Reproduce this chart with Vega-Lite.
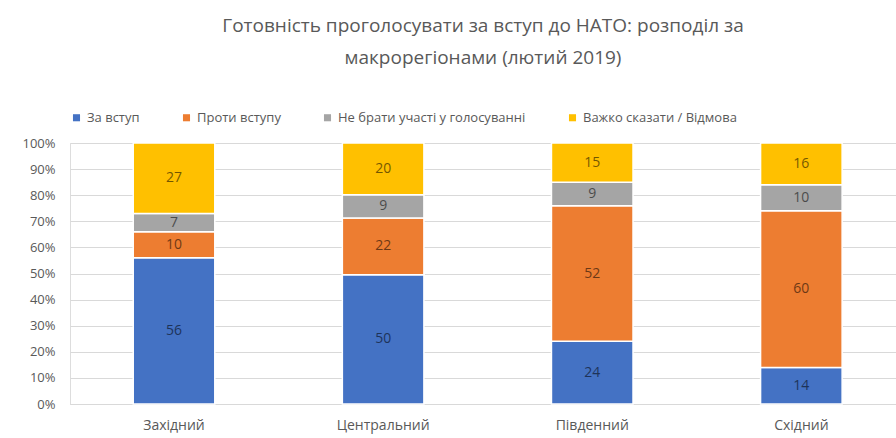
{
  "$schema": "https://vega.github.io/schema/vega-lite/v6.json",
  "width": 896,
  "height": 438,
  "autosize": {"type": "fit", "contains": "padding"},
  "padding": {"left": 21, "right": 0, "top": 17, "bottom": 6},
  "background": "white",
  "title": {
    "text": ["Готовність проголосувати за вступ до НАТО: розподіл за", "макрорегіонами (лютий 2019)"],
    "font": "Open Sans",
    "fontSize": 19,
    "fontWeight": "normal",
    "color": "#595959",
    "lineHeight": 32,
    "anchor": "middle",
    "offset": 43
  },
  "data": {
    "values": [
      {"region": "Західний", "cat": "За вступ", "ord": 1, "v": 56},
      {"region": "Західний", "cat": "Проти вступу", "ord": 2, "v": 10},
      {"region": "Західний", "cat": "Не брати участі у голосуванні", "ord": 3, "v": 7},
      {"region": "Західний", "cat": "Важко сказати / Відмова", "ord": 4, "v": 27},
      {"region": "Центральний", "cat": "За вступ", "ord": 1, "v": 50},
      {"region": "Центральний", "cat": "Проти вступу", "ord": 2, "v": 22},
      {"region": "Центральний", "cat": "Не брати участі у голосуванні", "ord": 3, "v": 9},
      {"region": "Центральний", "cat": "Важко сказати / Відмова", "ord": 4, "v": 20},
      {"region": "Південний", "cat": "За вступ", "ord": 1, "v": 24},
      {"region": "Південний", "cat": "Проти вступу", "ord": 2, "v": 52},
      {"region": "Південний", "cat": "Не брати участі у голосуванні", "ord": 3, "v": 9},
      {"region": "Південний", "cat": "Важко сказати / Відмова", "ord": 4, "v": 15},
      {"region": "Східний", "cat": "За вступ", "ord": 1, "v": 14},
      {"region": "Східний", "cat": "Проти вступу", "ord": 2, "v": 60},
      {"region": "Східний", "cat": "Не брати участі у голосуванні", "ord": 3, "v": 10},
      {"region": "Східний", "cat": "Важко сказати / Відмова", "ord": 4, "v": 16}
    ]
  },
  "encoding": {
    "x": {
      "field": "region", "type": "nominal", "sort": null,
      "scale": {"paddingInner": 0.61, "paddingOuter": 0.28, "align": 0.54},
      "axis": {"title": null, "labelAngle": 0, "labelFont": "Open Sans", "labelFontSize": 14, "labelColor": "#595959", "labelPadding": 14, "ticks": false, "domainColor": "#d9d9d9", "domainWidth": 1}
    },
    "y": {
      "field": "v", "type": "quantitative", "stack": "normalize",
      "scale": {"domain": [0, 1]},
      "axis": {"title": null, "format": "%", "values": [0, 0.1, 0.2, 0.3, 0.4, 0.5, 0.6, 0.7, 0.8, 0.9, 1], "labelFont": "Open Sans", "labelFontSize": 13, "labelColor": "#595959", "labelPadding": 15, "ticks": false, "domain": false, "gridColor": "#d9d9d9", "gridWidth": 1}
    },
    "order": {"field": "ord", "type": "quantitative"}
  },
  "layer": [
    {
      "mark": {"type": "bar", "stroke": "white", "strokeWidth": 1.5},
      "encoding": {
        "color": {
          "field": "cat", "type": "nominal",
          "scale": {
            "domain": ["За вступ", "Проти вступу", "Не брати участі у голосуванні", "Важко сказати / Відмова"],
            "range": ["#4472C4", "#ED7D31", "#A5A5A5", "#FFC000"]
          },
          "legend": {
            "title": null, "orient": "top", "direction": "horizontal",
            "symbolType": "square", "symbolSize": 50, "symbolStrokeWidth": 0,
            "labelFont": "Open Sans", "labelFontSize": 13, "labelColor": "#595959",
            "columnPadding": 40, "offset": 18, "labelLimit": 400
          }
        }
      }
    },
    {
      "mark": {"type": "text", "font": "Open Sans", "fontSize": 14, "color": "black", "opacity": 0.55},
      "encoding": {
        "y": {"field": "v", "type": "quantitative", "stack": "normalize", "bandPosition": 0.5},
        "text": {"field": "v", "type": "quantitative"}
      }
    }
  ]
}
